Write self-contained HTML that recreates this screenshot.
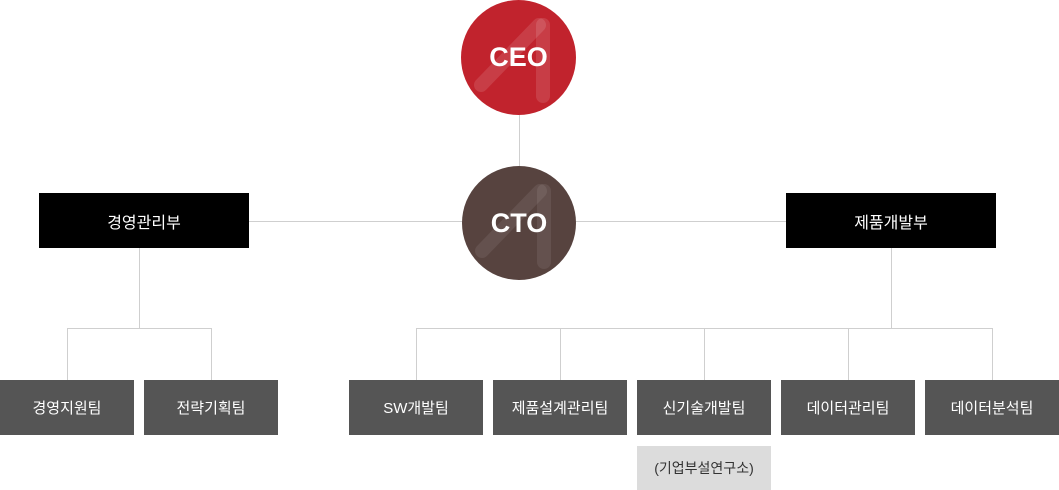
<!DOCTYPE html>
<html><head><meta charset="utf-8"><style>
body{margin:0;width:1059px;height:490px;background:#fff;position:relative;overflow:hidden;font-family:"Liberation Sans","Noto Sans CJK KR",sans-serif}
.l{position:absolute;background:#cfcfcf}
.c{position:absolute;border-radius:50%;color:#fff;font-size:27px;font-weight:bold;display:flex;align-items:center;justify-content:center;overflow:hidden}
.b{position:absolute;color:#fff;font-size:15px;display:flex;align-items:center;justify-content:center}
.k{background:#000;width:210px;height:55px;top:193px;font-size:16px}
.g{background:#555;width:134px;height:55px;top:380px}
</style></head><body>
<div class="l" style="left:519px;top:110px;width:1px;height:60px"></div>
<div class="l" style="left:249px;top:221px;width:537px;height:1px"></div>
<div class="l" style="left:139px;top:248px;width:1px;height:80px"></div>
<div class="l" style="left:67px;top:328px;width:145px;height:1px"></div>
<div class="l" style="left:67px;top:328px;width:1px;height:52px"></div>
<div class="l" style="left:211px;top:328px;width:1px;height:52px"></div>
<div class="l" style="left:891px;top:248px;width:1px;height:80px"></div>
<div class="l" style="left:416px;top:328px;width:577px;height:1px"></div>
<div class="l" style="left:416px;top:328px;width:1px;height:52px"></div>
<div class="l" style="left:560px;top:328px;width:1px;height:52px"></div>
<div class="l" style="left:704px;top:328px;width:1px;height:52px"></div>
<div class="l" style="left:848px;top:328px;width:1px;height:52px"></div>
<div class="l" style="left:992px;top:328px;width:1px;height:52px"></div>
<div class="c" style="left:461px;top:0;width:115px;height:115px;background:#c1232d"><svg style="position:absolute;left:0;top:0" width="115" height="115"><path d="M20 85 L78 25" stroke="rgba(255,255,255,.12)" stroke-width="14" stroke-linecap="round"/><rect x="75" y="18" width="14" height="85" rx="7" fill="rgba(255,255,255,.12)"/></svg><span style="position:relative">CEO</span></div>
<div class="c" style="left:462px;top:166px;width:114px;height:114px;background:#57433f"><svg style="position:absolute;left:0;top:0" width="115" height="115"><path d="M20 85 L78 25" stroke="rgba(255,255,255,.08)" stroke-width="14" stroke-linecap="round"/><rect x="75" y="18" width="14" height="85" rx="7" fill="rgba(255,255,255,.08)"/></svg><span style="position:relative">CTO</span></div>
<div class="b k" style="left:39px">경영관리부</div>
<div class="b k" style="left:786px">제품개발부</div>
<div class="b g" style="left:0">경영지원팀</div>
<div class="b g" style="left:144px">전략기획팀</div>
<div class="b g" style="left:349px">SW개발팀</div>
<div class="b g" style="left:493px">제품설계관리팀</div>
<div class="b g" style="left:637px">신기술개발팀</div>
<div class="b g" style="left:781px">데이터관리팀</div>
<div class="b g" style="left:925px">데이터분석팀</div>
<div class="b" style="left:637px;top:446px;width:134px;height:44px;background:#dcdcdc;color:#333;font-size:14px">(기업부설연구소)</div>
</body></html>
